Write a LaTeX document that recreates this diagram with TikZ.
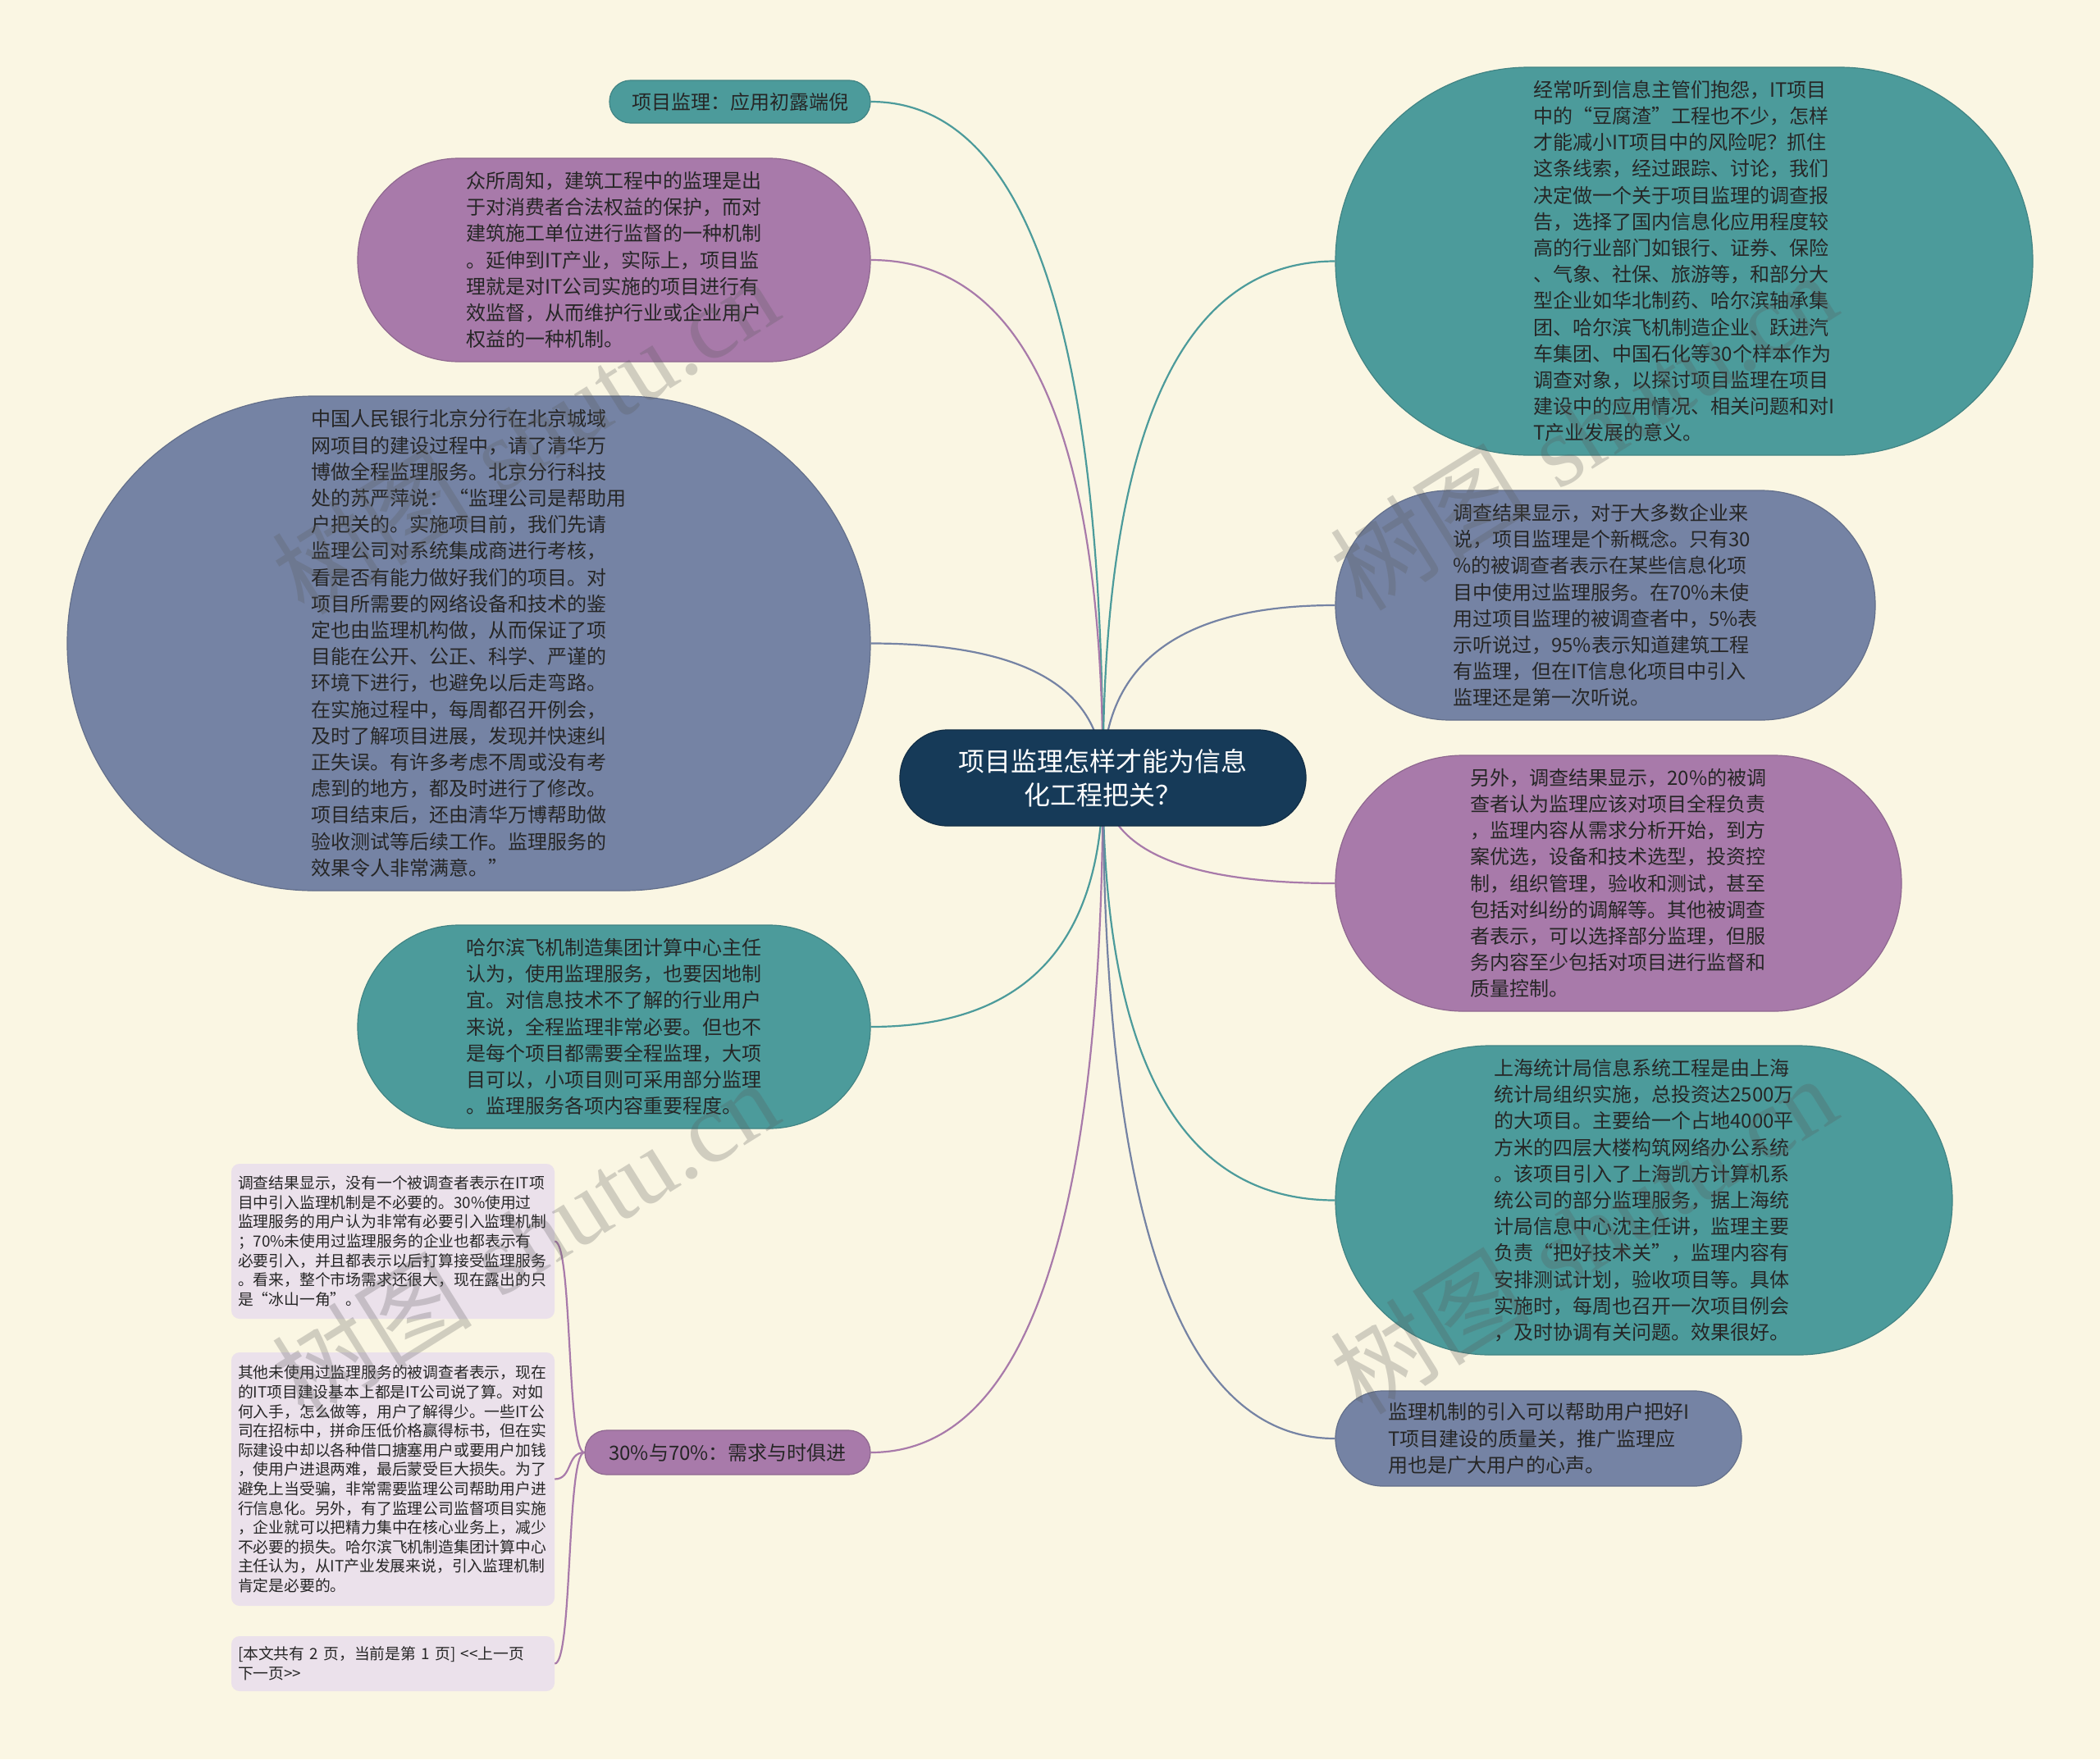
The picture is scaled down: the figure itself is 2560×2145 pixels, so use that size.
\documentclass[tikz,border=0pt]{standalone}
\usepackage{fontspec}
\setmainfont{Noto Sans CJK SC}
\newfontfamily\wmserif{Liberation Serif}
\usetikzlibrary{calc}
\definecolor{bgc}{HTML}{FAF6E3}
\definecolor{tealc}{HTML}{4C9B9B}
\definecolor{purpc}{HTML}{A87AAA}
\definecolor{bluec}{HTML}{7583A4}
\definecolor{navyc}{HTML}{163A58}
\definecolor{boxc}{HTML}{EBE1EB}
\definecolor{txtc}{HTML}{262626}
\pgfdeclarelayer{back}
\pgfsetlayers{back,main}
\tikzset{
  pillbase/.style={draw, line width=1.2, align=left, text=txtc, inner sep=0,
    font=\fontsize{24}{32.2}\selectfont},
  tealpill/.style={pillbase, fill=tealc, draw=tealc!85!black},
  purppill/.style={pillbase, fill=purpc, draw=purpc!85!black},
  bluepill/.style={pillbase, fill=bluec, draw=bluec!85!black},
  centerpill/.style={fill=navyc, draw=navyc!80!black, line width=1.2, text=white,
    align=center, inner sep=0, font=\fontsize{32}{41}\selectfont},
  smallbox/.style={fill=boxc, rounded corners=10, inner sep=0, text width=378,
    minimum width=394, align=left, text=txtc, font=\fontsize{18.8}{23.6}\selectfont},
  link/.style={line width=2.2},
  wm/.style={text=black!65, opacity=0.26, rotate=32, inner sep=0,
    font=\fontsize{122}{122}\selectfont}
}
\newcommand\mmlink[3]{\draw[link,#1] (#2) .. controls ($(#2)!0.667!(#2 -| #3)$) and ($(#3)!0.667!(#2 -| #3)$) .. (#3);}
\begin{document}
\begin{tikzpicture}[x=1pt,y=-1pt]
\begin{pgfonlayer}{back}
\fill[bgc] (0,0) rectangle (2560,2145);
\end{pgfonlayer}
\useasboundingbox (0,0) rectangle (2560,2145);

% center
\node[centerpill, minimum width=495, minimum height=117, rounded corners=58] (c) at (1344.5,948.5)
  {项目监理怎样才能为信息\\化工程把关？};

% left side
\node[tealpill, minimum width=318, minimum height=52, rounded corners=25.5] (l1) at (902,124)
  {项目监理：应用初露端倪};

\node[purppill, minimum width=625, minimum height=248, rounded corners=123.5] (l2) at (748.5,317)
  {众所周知，建筑工程中的监理是出\\于对消费者合法权益的保护，而对\\建筑施工单位进行监督的一种机制\\。延伸到IT产业，实际上，项目监\\理就是对IT公司实施的项目进行有\\效监督，从而维护行业或企业用户\\权益的一种机制。};

\node[bluepill, minimum width=979, minimum height=603, rounded corners=301] (l3) at (571.5,784.5)
  {中国人民银行北京分行在北京城域\\网项目的建设过程中，请了清华万\\博做全程监理服务。北京分行科技\\处的苏严萍说：“监理公司是帮助用\\户把关的。实施项目前，我们先请\\监理公司对系统集成商进行考核，\\看是否有能力做好我们的项目。对\\项目所需要的网络设备和技术的鉴\\定也由监理机构做，从而保证了项\\目能在公开、公正、科学、严谨的\\环境下进行，也避免以后走弯路。\\在实施过程中，每周都召开例会，\\及时了解项目进展，发现并快速纠\\正失误。有许多考虑不周或没有考\\虑到的地方，都及时进行了修改。\\项目结束后，还由清华万博帮助做\\验收测试等后续工作。监理服务的\\效果令人非常满意。”};

\node[tealpill, minimum width=625, minimum height=248, rounded corners=123.5] (l4) at (748.5,1252)
  {哈尔滨飞机制造集团计算中心主任\\认为，使用监理服务，也要因地制\\宜。对信息技术不了解的行业用户\\来说，全程监理非常必要。但也不\\是每个项目都需要全程监理，大项\\目可以，小项目则可采用部分监理\\。监理服务各项内容重要程度。};

\node[purppill, minimum width=348, minimum height=54, rounded corners=26.5] (l5) at (887,1771)
  {30\%与70\%：需求与时俱进};

% small boxes
\node[smallbox, minimum height=189] (sa) at (479,1513.5)
  {调查结果显示，没有一个被调查者表示在IT项\\目中引入监理机制是不必要的。30\%使用过\\监理服务的用户认为非常有必要引入监理机制\\；70\%未使用过监理服务的企业也都表示有\\必要引入，并且都表示以后打算接受监理服务\\。看来，整个市场需求还很大，现在露出的只\\是“冰山一角”。};

\node[smallbox, minimum height=309] (sb) at (479,1803.5)
  {其他未使用过监理服务的被调查者表示，现在\\的IT项目建设基本上都是IT公司说了算。对如\\何入手，怎么做等，用户了解得少。一些IT公\\司在招标中，拼命压低价格赢得标书，但在实\\际建设中却以各种借口搪塞用户或要用户加钱\\，使用户进退两难，最后蒙受巨大损失。为了\\避免上当受骗，非常需要监理公司帮助用户进\\行信息化。另外，有了监理公司监督项目实施\\，企业就可以把精力集中在核心业务上，减少\\不必要的损失。哈尔滨飞机制造集团计算中心\\主任认为，从IT产业发展来说，引入监理机制\\肯定是必要的。};

\node[smallbox, minimum height=67] (sc) at (479,2028.5)
  {[本文共有 2 页，当前是第 1 页] <{}<上一页\\下一页>{}>};

% right side
\node[tealpill, minimum width=850, minimum height=473, rounded corners=236] (r1) at (2053,318.5)
  {经常听到信息主管们抱怨，IT项目\\中的“豆腐渣”工程也不少，怎样\\才能减小IT项目中的风险呢？抓住\\这条线索，经过跟踪、讨论，我们\\决定做一个关于项目监理的调查报\\告，选择了国内信息化应用程度较\\高的行业部门如银行、证券、保险\\、气象、社保、旅游等，和部分大\\型企业如华北制药、哈尔滨轴承集\\团、哈尔滨飞机制造企业、跃进汽\\车集团、中国石化等30个样本作为\\调查对象，以探讨项目监理在项目\\建设中的应用情况、相关问题和对I\\T产业发展的意义。};

\node[bluepill, minimum width=658, minimum height=280, rounded corners=139.5] (r2) at (1957,738)
  {调查结果显示，对于大多数企业来\\说，项目监理是个新概念。只有30\\\%的被调查者表示在某些信息化项\\目中使用过监理服务。在70\%未使\\用过项目监理的被调查者中，5\%表\\示听说过，95\%表示知道建筑工程\\有监理，但在IT信息化项目中引入\\监理还是第一次听说。};

\node[purppill, minimum width=690, minimum height=312, rounded corners=155.5] (r3) at (1973,1077)
  {另外，调查结果显示，20\%的被调\\查者认为监理应该对项目全程负责\\，监理内容从需求分析开始，到方\\案优选，设备和技术选型，投资控\\制，组织管理，验收和测试，甚至\\包括对纠纷的调解等。其他被调查\\者表示，可以选择部分监理，但服\\务内容至少包括对项目进行监督和\\质量控制。};

\node[tealpill, minimum width=752, minimum height=377, rounded corners=188] (r4) at (2004,1463.5)
  {上海统计局信息系统工程是由上海\\统计局组织实施，总投资达2500万\\的大项目。主要给一个占地4000平\\方米的四层大楼构筑网络办公系统\\。该项目引入了上海凯方计算机系\\统公司的部分监理服务，据上海统\\计局信息中心沈主任讲，监理主要\\负责“把好技术关”，监理内容有\\安排测试计划，验收项目等。具体\\实施时，每周也召开一次项目例会\\，及时协调有关问题。效果很好。};

\node[bluepill, minimum width=495, minimum height=116, rounded corners=57.5] (r5) at (1875.5,1754)
  {监理机制的引入可以帮助用户把好I\\T项目建设的质量关，推广监理应\\用也是广大用户的心声。};

% connectors
\begin{pgfonlayer}{back}
\mmlink{tealc}{l1.east}{c.center}
\mmlink{purpc}{l2.east}{c.center}
\mmlink{bluec}{l3.east}{c.center}
\mmlink{tealc}{l4.east}{c.center}
\mmlink{purpc}{l5.east}{c.center}
\mmlink{tealc}{r1.west}{c.center}
\mmlink{bluec}{r2.west}{c.center}
\mmlink{purpc}{r3.west}{c.center}
\mmlink{tealc}{r4.west}{c.center}
\mmlink{bluec}{r5.west}{c.center}
\draw[link,purpc] (sa.east) .. controls +(22,0) and +(-22,0) .. (l5.west);
\draw[link,purpc] (sb.east) .. controls +(22,0) and +(-22,0) .. (l5.west);
\draw[link,purpc] (sc.east) .. controls +(22,0) and +(-22,0) .. (l5.west);
\end{pgfonlayer}

% watermarks
\node[wm] (wm1) at (640,530) {树图\hspace{36pt}{\wmserif shutu.cn}};
\node[wm] (wm2) at (640,1510) {树图\hspace{36pt}{\wmserif shutu.cn}};
\node[wm] (wm3) at (1930,525) {树图\hspace{36pt}{\wmserif shutu.cn}};
\node[wm] (wm4) at (1930,1505) {树图\hspace{36pt}{\wmserif shutu.cn}};
\end{tikzpicture}
\end{document}
